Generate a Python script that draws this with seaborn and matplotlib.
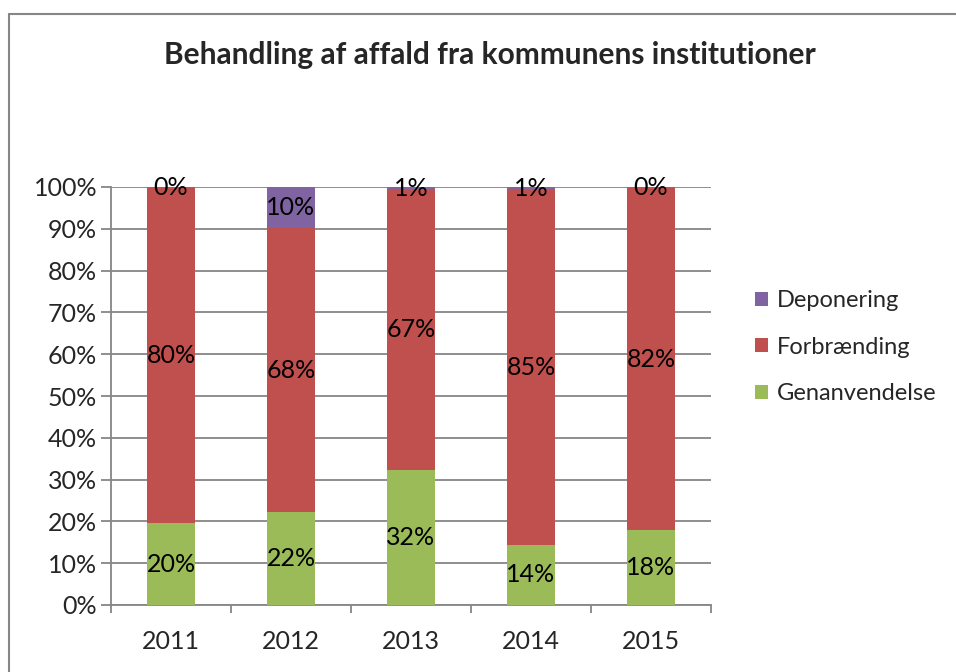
import matplotlib
matplotlib.use("Agg")
import matplotlib.pyplot as plt
import seaborn as sns
import pandas as pd
import numpy as np
from matplotlib.lines import Line2D
from matplotlib.patches import Patch

years = ["2011", "2012", "2013", "2014", "2015"]
genanvendelse = [19.6, 22.2, 32.4, 14.4, 17.9]
forbraending = [80.2, 68.0, 66.9, 84.9, 81.8]
deponering = [0.2, 9.8, 0.7, 0.7, 0.3]
series_names = ["Genanvendelse", "Forbrænding", "Deponering"]
colors = {"Genanvendelse": "#9BBB59", "Forbrænding": "#C0504D", "Deponering": "#8064A2"}
yticks = [0, 10, 20, 30, 40, 50, 60, 70, 80, 90, 100]

sns.set_theme(style="white")
plt.rcParams["font.family"] = ["Lato", "DejaVu Sans"]

FS = 18
LFS = 17

df = pd.DataFrame({"year": years, "Genanvendelse": genanvendelse,
                   "Forbrænding": forbraending, "Deponering": deponering})
df["c1"] = df["Genanvendelse"]
df["c2"] = df["c1"] + df["Forbrænding"]
df["c3"] = df["c2"] + df["Deponering"]

fig = plt.figure(figsize=(9.56, 6.72), dpi=100)
ax = fig.add_axes([111/956, 1 - 605/672, 600/956, 418/672])

for col, name in [("c3", "Deponering"), ("c2", "Forbrænding"), ("c1", "Genanvendelse")]:
    sns.barplot(data=df, x="year", y=col, color=colors[name], width=0.4,
                saturation=1, ax=ax, zorder=3, edgecolor="none", linewidth=0)

ax.set_ylim(0, 100)
ax.set_xlim(-0.5, 4.5)
ax.set_yticks(yticks)
ax.set_yticklabels([f"{t}%" for t in yticks])
ax.yaxis.grid(True, color="#868686", linewidth=1.3, zorder=0)
ax.set_axisbelow(True)
ax.set_xlabel("")
ax.set_ylabel("")
for s in ["top", "right"]:
    ax.spines[s].set_visible(False)
for s in ["left", "bottom"]:
    ax.spines[s].set_color("#868686")
    ax.spines[s].set_linewidth(1.3)
ax.tick_params(axis="y", which="major", length=7, width=1.3, color="#868686",
               labelsize=FS, pad=3, left=True, direction="out")
ax.tick_params(axis="x", which="major", length=0, labelsize=FS, pad=18)
ax.set_xticks(np.arange(-0.5, 5, 1), minor=True)
ax.tick_params(axis="x", which="minor", length=6, width=1.3, color="#868686",
               bottom=True, direction="out")

for i in range(len(years)):
    bottoms = [0, df["c1"][i], df["c2"][i]]
    vals = [genanvendelse[i], forbraending[i], deponering[i]]
    for b, v in zip(bottoms, vals):
        ax.text(i, b + v / 2, f"{round(v):.0f}%", ha="center", va="center",
                fontsize=FS, color="black", zorder=5)

handles = [Patch(facecolor=colors[n], edgecolor="none") for n in ["Deponering", "Forbrænding", "Genanvendelse"]]
fig.legend(handles, ["Deponering", "Forbrænding", "Genanvendelse"],
           loc="center left", bbox_to_anchor=(734/956, 1 - 347/672),
           frameon=False, fontsize=LFS, handlelength=0.55, handleheight=0.55,
           handletextpad=0.35, labelspacing=1.08)

fig.text(490/956, 1 - 55/672, "Behandling af affald fra kommunens institutioner",
         ha="center", va="center", fontsize=21.5, fontweight="bold")

fig.add_artist(Line2D([9/956, 9/956], [0, 1 - 14/672], transform=fig.transFigure,
                      color="#868686", linewidth=1.5))
fig.add_artist(Line2D([9/956, 1], [1 - 14/672, 1 - 14/672], transform=fig.transFigure,
                      color="#868686", linewidth=1.5))

fig.savefig("out.png", dpi=100)
